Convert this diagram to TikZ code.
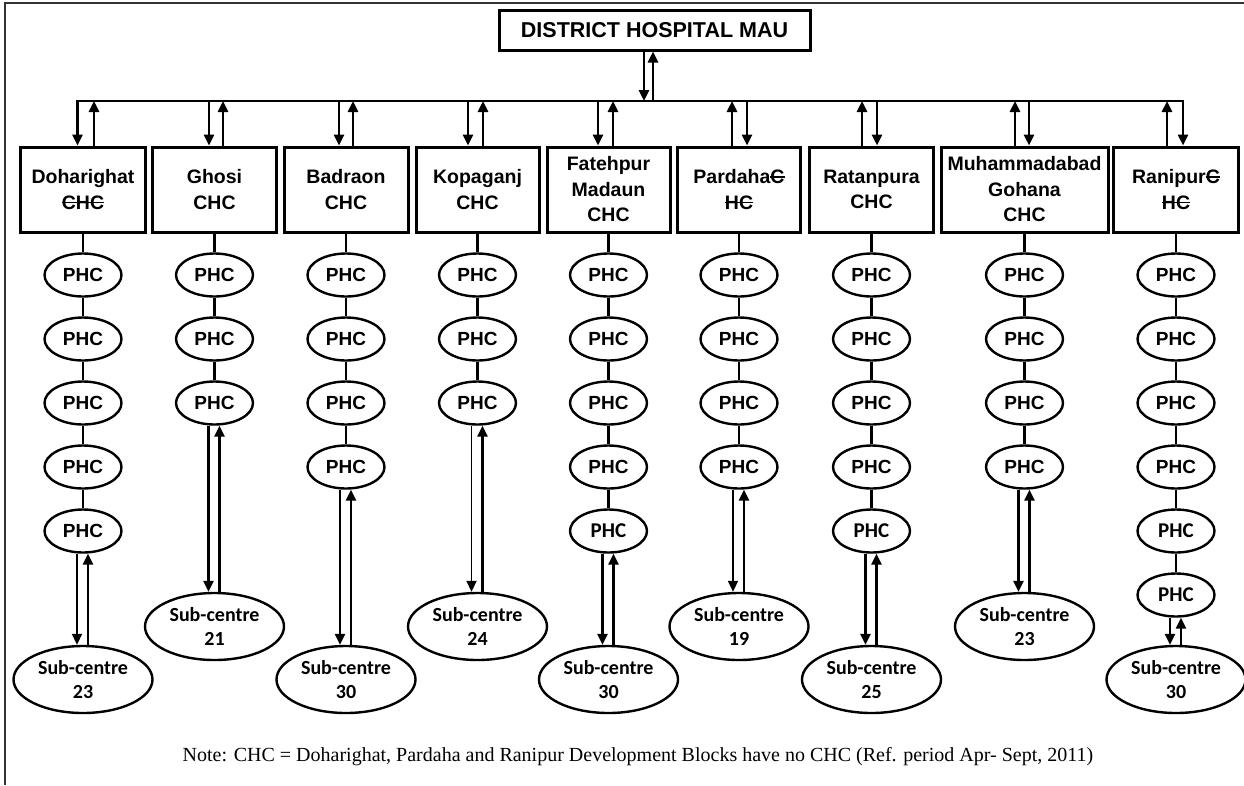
\documentclass[tikz,border=0pt]{standalone}
\usepackage{fontspec}
\setmainfont{Liberation Serif}
\newfontfamily\arialfont{Liberation Sans}
\newfontfamily\calfont{Carlito}
\usetikzlibrary{arrows.meta,shapes.geometric}
\newcommand\mystrike[1]{\setbox0\hbox{#1}\rlap{\rule[0.3em]{\wd0}{0.09em}}\box0}
\tikzset{
  topbox/.style={draw, line width=3pt, minimum width=311pt, minimum height=40pt, inner sep=0pt,
    font=\arialfont\bfseries\fontsize{21.5}{24}\selectfont},
  chcbox/.style={draw, line width=3pt, minimum height=85pt, inner sep=0pt, align=center,
    font=\arialfont\bfseries\fontsize{19.5}{25.5}\selectfont},
  phc0/.style={draw, ellipse, line width=2.4pt, minimum width=77pt, minimum height=43pt, inner sep=0pt,
    font=\arialfont\bfseries\fontsize{19}{22}\selectfont},
  phc1/.style={phc0, font=\calfont\bfseries\fontsize{21}{22}\selectfont},
  subc/.style={draw, ellipse, line width=2.4pt, minimum width=139pt, minimum height=67pt, inner sep=0pt,
    align=center, font=\calfont\bfseries\fontsize{20}{24}\selectfont},
  link/.style={line width=2.2pt},
  bus/.style={line width=2.8pt, line cap=rect},
  arr/.style={line width=2.6pt, -{Triangle[length=11pt,width=10pt]}},
  thinarr/.style={arr, line width=1.8pt},
  frame/.style={line width=1.8pt, black!80},
  notetext/.style={font=\fontsize{20}{22}\selectfont, inner sep=0pt}
}
\begin{document}
\begin{tikzpicture}[x=1pt,y=-1pt]
\useasboundingbox (0,0) rectangle (1244,785);
\fill[white] (0,0) rectangle (1244,785);
\draw[frame] (1244,3) -- (5,3) -- (5,785);

% top box
\node[topbox] (dh) at (654.5,30) {DISTRICT HOSPITAL MAU};
\coordinate (busL) at (77.5,101);
\coordinate (busR) at (1183,101);
\draw[bus] (busL) -- (busR);
\draw[arr] ([xshift=-10.5pt]dh.south) -- ([xshift=-10.5pt]dh.south |- busL);
\draw[arr] ([xshift=-1.5pt]dh.south |- busL) -- ([xshift=-1.5pt]dh.south);

% CHC boxes
\node[chcbox, minimum width=125pt] (b1) at (83,189.5) {Doharighat\\\mystrike{CHC}};
\node[chcbox, minimum width=124pt] (b2) at (214.5,189.5) {Ghosi\\CHC};
\node[chcbox, minimum width=124pt] (b3) at (346,189.5) {Badraon\\CHC};
\node[chcbox, minimum width=123pt] (b4) at (477.5,189.5) {Kopaganj\\CHC};
\node[chcbox, minimum width=123pt] (b5) at (608.5,189.5) {Fatehpur\\Madaun\\CHC};
\node[chcbox, minimum width=123pt] (b6) at (739,189.5) {Pardaha\mystrike{C}\\\mystrike{HC}};
\node[chcbox, minimum width=124pt] (b7) at (871.5,189.5) {Ratanpura\\CHC};
\node[chcbox, minimum width=167pt] (b8) at (1024.5,189.5) {Muhammadabad\\Gohana\\CHC};
\node[chcbox, minimum width=125pt] (b9) at (1176,189.5) {Ranipur\mystrike{C}\\\mystrike{HC}};

% arrows bus <-> CHC boxes (left down, right up)
\foreach \c/\l/\r in {1/-5.5/11, 2/-5.5/8.5, 3/-7/7, 4/-9.5/5.5, 5/-10.5/4.5} {
  \draw[arr] ([xshift=\l pt]b\c.north |- busL) -- ([xshift=\l pt]b\c.north);
  \draw[arr] ([xshift=\r pt]b\c.north) -- ([xshift=\r pt]b\c.north |- busL);
}
% (left up, right down)
\foreach \c/\l/\r in {6/-7/8, 7/-9.5/5.5, 8/-9.5/4.5, 9/-9/7} {
  \draw[arr] ([xshift=\l pt]b\c.north) -- ([xshift=\l pt]b\c.north |- busL);
  \draw[arr] ([xshift=\r pt]b\c.north |- busL) -- ([xshift=\r pt]b\c.north);
}

% PHC columns and sub-centres
\foreach \c/\x/\n/\sy/\num/\fn/\da in {1/83/5/679.5/23/0/thinarr, 2/214.5/3/626.5/21/0/arr,
    3/346/4/679.5/30/0/arr, 4/477.5/3/626.5/24/0/thinarr, 5/608.5/5/679.5/30/1/arr,
    6/739/4/626.5/19/0/thinarr, 7/871.5/5/679.5/25/1/arr, 8/1024.5/4/626.5/23/0/arr,
    9/1176/6/679.5/30/2/arr} {
  \foreach \k in {1,...,\n} {
    \pgfmathtruncatemacro\cal{\k>\n-\fn ? 1 : 0}
    \pgfmathsetmacro\py{275+64*(\k-1)}
    \node[phc\cal] (p\c-\k) at (\x,\py) {PHC};
  }
  \node[subc] (s\c) at (\x,\sy) {Sub-centre\\\num};
  \draw[link] (b\c) -- (p\c-1);
  \foreach \k in {2,...,\n} {
    \pgfmathtruncatemacro\prev{\k-1}
    \draw[link] (p\c-\prev) -- (p\c-\k);
  }
  \draw[\da] ([xshift=-6pt]p\c-\n.south) -- ([xshift=-6pt]s\c.north);
  \draw[arr] ([xshift=5pt]s\c.north) -- ([xshift=5pt]p\c-\n.south);
}

\node[notetext] (note) at (638,757) {Note: CHC = Doharighat, Pardaha and Ranipur Development Blocks have no CHC (Ref. period Apr- Sept, 2011)};
\end{tikzpicture}
\end{document}
